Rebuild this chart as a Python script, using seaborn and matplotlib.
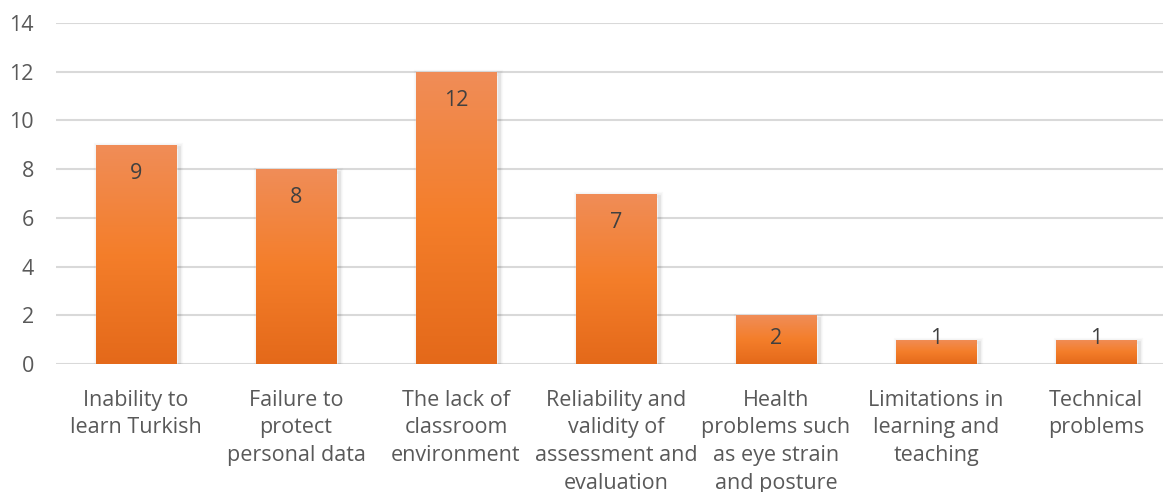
import matplotlib
matplotlib.use("Agg")
import matplotlib.pyplot as plt
import matplotlib.transforms as mtrans
import seaborn as sns
import numpy as np
import pandas as pd
from matplotlib.colors import LinearSegmentedColormap

categories = [
    "Inability to\nlearn Turkish",
    "Failure to\nprotect\npersonal data",
    "The lack of\nclassroom\nenvironment",
    "Reliability and\nvalidity of\nassessment and\nevaluation",
    "Health\nproblems such\nas eye strain\nand posture",
    "Limitations in\nlearning and\nteaching",
    "Technical\nproblems",
]
values = [9, 8, 12, 7, 2, 1, 1]
yticks = [0, 2, 4, 6, 8, 10, 12, 14]

df = pd.DataFrame({"category": categories, "value": values})

sns.set_theme(style="white")
plt.rcParams["font.family"] = ["Open Sans", "DejaVu Sans"]

fig = plt.figure(figsize=(11.63, 4.92), dpi=100)
ax = fig.add_axes([56 / 1163, 1 - 364 / 492, 1120 / 1163, (364 - 23) / 492])

sns.barplot(data=df, x="category", y="value", ax=ax, width=0.506,
            color="#F47E2A", saturation=1, zorder=3)

ax.set_ylim(0, 14)
ax.set_xlim(-0.5, len(categories) - 0.5)
ax.set_yticks(yticks)
ax.set_xlabel("")
ax.set_ylabel("")
for s in ax.spines.values():
    s.set_visible(False)
ax.yaxis.grid(True, color="#D9D9D9", linewidth=1.5, zorder=0)
ax.xaxis.grid(False)
ax.tick_params(axis="both", length=0, labelsize=15.5, colors="#595959")
ax.tick_params(axis="y", pad=16)
ax.tick_params(axis="x", pad=18.5)
for lbl in ax.get_xticklabels():
    lbl.set_linespacing(1.42)

cmap = LinearSegmentedColormap.from_list(
    "og", [(0, "#E4691A"), (0.5, "#F47E2A"), (1, "#F08D58")])
grad = np.linspace(0, 1, 256).reshape(-1, 1)
px = mtrans.ScaledTranslation
upp = 14 / 341.0  # data units per pixel
for bar, v in zip(ax.patches, values):
    x0 = bar.get_x(); w = bar.get_width(); h = bar.get_height()
    # soft shadow, offset down-right
    for k, a in [(3, 0.025), (2, 0.035), (1, 0.05)]:
        sh = plt.Rectangle((x0, 0), w, h, facecolor="none", edgecolor="#000000",
                           linewidth=k * 2, alpha=a, zorder=2.5,
                           transform=ax.transData + px(2.5 / 100, -2.5 / 100, fig.dpi_scale_trans))
        ax.add_patch(sh)
    im = ax.imshow(grad, cmap=cmap, aspect="auto", origin="lower",
                   extent=[x0, x0 + w, 0, h], zorder=3.5)
    im.set_clip_path(bar)
    bar.set_zorder(3.4)
    ly = max(h - 28.5 * upp, 25 * upp)
    ax.text(x0 + w / 2, ly, f"{v}", ha="center", va="center",
            fontsize=15.5, color="#404040", zorder=5)

ax.set_xlim(-0.5, len(categories) - 0.5)
ax.set_ylim(0, 14)
fig.savefig("out.png", dpi=100, facecolor="white")
